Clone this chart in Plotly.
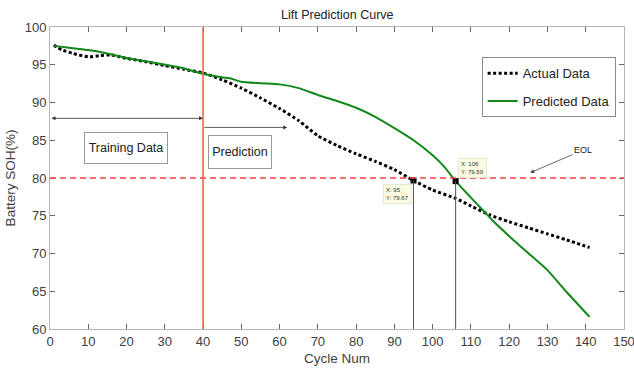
import plotly.graph_objects as go

# Measured state of health over the cycle life
actual_cycles = [1, 3, 6, 10, 13, 16, 20, 25, 30, 35, 40, 45, 50, 55, 60, 65, 70,
                 75, 80, 85, 90, 95, 100, 106, 110, 115, 120, 125, 130, 135, 141]
actual_soh = [97.6, 97.0, 96.5, 96.05, 96.2, 96.3, 95.85, 95.4, 94.9, 94.4, 93.9,
              93.0, 91.9, 90.6, 89.2, 87.6, 85.6, 84.3, 83.2, 82.2, 81.1, 79.67,
              78.4, 77.3, 76.3, 75.1, 74.2, 73.4, 72.6, 71.8, 70.8]

# Model output: fitted on the first 40 cycles, extrapolated afterwards
pred_cycles = [1, 5, 10, 15, 20, 25, 30, 35, 40, 44, 47, 50, 55, 60, 65, 70, 75,
               80, 85, 90, 95, 100, 103, 106, 110, 113, 116, 120, 126, 130, 135, 141]
pred_soh = [97.5, 97.25, 96.95, 96.5, 95.9, 95.45, 95.0, 94.5, 93.8, 93.4, 93.2,
            92.75, 92.55, 92.4, 91.9, 91.0, 90.2, 89.3, 88.1, 86.6, 85.0, 83.0,
            81.5, 79.59, 77.4, 75.8, 74.2, 72.3, 69.6, 67.8, 64.9, 61.6]

# End-of-life threshold and split between training / prediction
eol_level = 80
split_cycle = 40
prediction_arrow_end = 62

# Data tips where each curve reaches end of life
tip_x = [95, 106]
tip_y = [79.67, 79.59]

x_ticks = list(range(0, 151, 10))
y_ticks = list(range(60, 101, 5))

FONT = "Liberation Sans, Arial, sans-serif"
AXIS_GREY = "#b5b5b5"
TEXT_GREY = "#404040"

fig = go.Figure()

fig.add_trace(go.Scatter(
    x=actual_cycles, y=actual_soh, mode="lines", name="Actual Data",
    legendgroup="actual",
    line=dict(color="black", width=3, dash="3px,2.5px", shape="spline", smoothing=0.6),
))
fig.add_trace(go.Scatter(
    x=pred_cycles, y=pred_soh, mode="lines", name="Predicted Data",
    legendgroup="predicted",
    line=dict(color="#12881a", width=2, shape="spline", smoothing=0.6),
))

# Vertical drop lines from the data tips
for tx, ty in zip(tip_x, tip_y):
    fig.add_shape(type="line", x0=tx, x1=tx, y0=ty, y1=60, xref="x", yref="y",
                  line=dict(color="#555555", width=1))

fig.add_trace(go.Scatter(
    x=tip_x, y=tip_y, mode="markers", showlegend=False,
    marker=dict(symbol="square", size=6, color="black"),
))

# EOL threshold
fig.add_shape(type="line", x0=0, x1=150, y0=eol_level, y1=eol_level,
              xref="x", yref="y", line=dict(color="#ff3b3b", width=1.3, dash="6px,4px"))
# Training / prediction split
fig.add_shape(type="line", x0=split_cycle, x1=split_cycle, y0=60, y1=100,
              xref="x", yref="y", line=dict(color="#e2603c", width=1.5))

# Arrows marking the training and prediction ranges
fig.add_annotation(x=split_cycle, y=87.9, ax=0, ay=87.9, xref="x", yref="y",
                   axref="x", ayref="y", text="", showarrow=True,
                   arrowhead=2, startarrowhead=2, arrowside="end+start",
                   arrowsize=1, arrowwidth=0.8, arrowcolor="#333333")
fig.add_annotation(x=prediction_arrow_end, y=86.7, ax=split_cycle, ay=86.7,
                   xref="x", yref="y", axref="x", ayref="y", text="", showarrow=True,
                   arrowhead=2, arrowsize=1, arrowwidth=0.8, arrowcolor="#333333")

fig.add_annotation(x=19.95, y=84.0, xref="x", yref="y", text="Training Data",
                   showarrow=False, font=dict(family=FONT, size=12.5, color="#222222"),
                   bordercolor="#9a9a9a", borderwidth=1, borderpad=2,
                   width=78, height=26, bgcolor="white")
fig.add_annotation(x=49.7, y=83.5, xref="x", yref="y", text="Prediction",
                   showarrow=False, font=dict(family=FONT, size=12.5, color="#222222"),
                   bordercolor="#9a9a9a", borderwidth=1, borderpad=2,
                   width=58, height=28, bgcolor="white")

# EOL label with pointer
fig.add_annotation(x=125.5, y=80.7, ax=139.3, ay=83.7, xref="x", yref="y",
                   axref="x", ayref="y", text="EOL", showarrow=True,
                   font=dict(family=FONT, size=9, color="#222222"),
                   arrowhead=2, arrowsize=1, arrowwidth=0.8, arrowcolor="#444444")

# Data tip boxes
fig.add_annotation(x=tip_x[0], y=tip_y[0], xref="x", yref="y",
                   text=f"X: {tip_x[0]}<br>Y: {tip_y[0]:.2f}", showarrow=False,
                   xanchor="right", yanchor="top", xshift=-2, yshift=-4, align="left",
                   font=dict(family=FONT, size=6, color="#333333"),
                   bgcolor="#fbfbe3", bordercolor="#e8e8d0", borderwidth=1, borderpad=2)
fig.add_annotation(x=tip_x[1], y=tip_y[1], xref="x", yref="y",
                   text=f"X: {tip_x[1]}<br>Y: {tip_y[1]:.2f}", showarrow=False,
                   xanchor="left", yanchor="bottom", xshift=2, yshift=3, align="left",
                   font=dict(family=FONT, size=6, color="#333333"),
                   bgcolor="#fbfbe3", bordercolor="#e8e8d0", borderwidth=1, borderpad=2)

axis_common = dict(
    showgrid=False, zeroline=False, showline=True, linecolor=AXIS_GREY, linewidth=1,
    mirror="ticks", ticks="inside", ticklen=5, tickcolor="#666666", tickwidth=1,
    tickfont=dict(family=FONT, size=13, color=TEXT_GREY), automargin=False,
    ticklabeloverflow="allow",
)

fig.update_layout(
    width=634, height=371,
    margin=dict(l=50, r=10, t=27, b=42, autoexpand=False),
    paper_bgcolor="white", plot_bgcolor="white",
    title=dict(text="Lift Prediction Curve", x=0.532, xanchor="center",
               y=0.96, yanchor="middle",
               font=dict(family=FONT, size=12.5, color="#222222")),
    xaxis=dict(range=[0, 150], tickvals=x_ticks, **axis_common,
               title=dict(text="Cycle Num", standoff=5,
                          font=dict(family=FONT, size=13.5, color=TEXT_GREY))),
    yaxis=dict(range=[60, 100], tickvals=y_ticks, **axis_common,
               title=dict(text="Battery SOH(%)", standoff=5,
                          font=dict(family=FONT, size=13.5, color=TEXT_GREY))),
    legend=dict(x=0.752, y=0.9, xanchor="left", yanchor="top",
                bgcolor="white", bordercolor="#8a8a8a", borderwidth=1,
                font=dict(family=FONT, size=13, color="#222222"),
                itemwidth=30, tracegroupgap=8),
    showlegend=True,
)

fig.write_html("out.html")
